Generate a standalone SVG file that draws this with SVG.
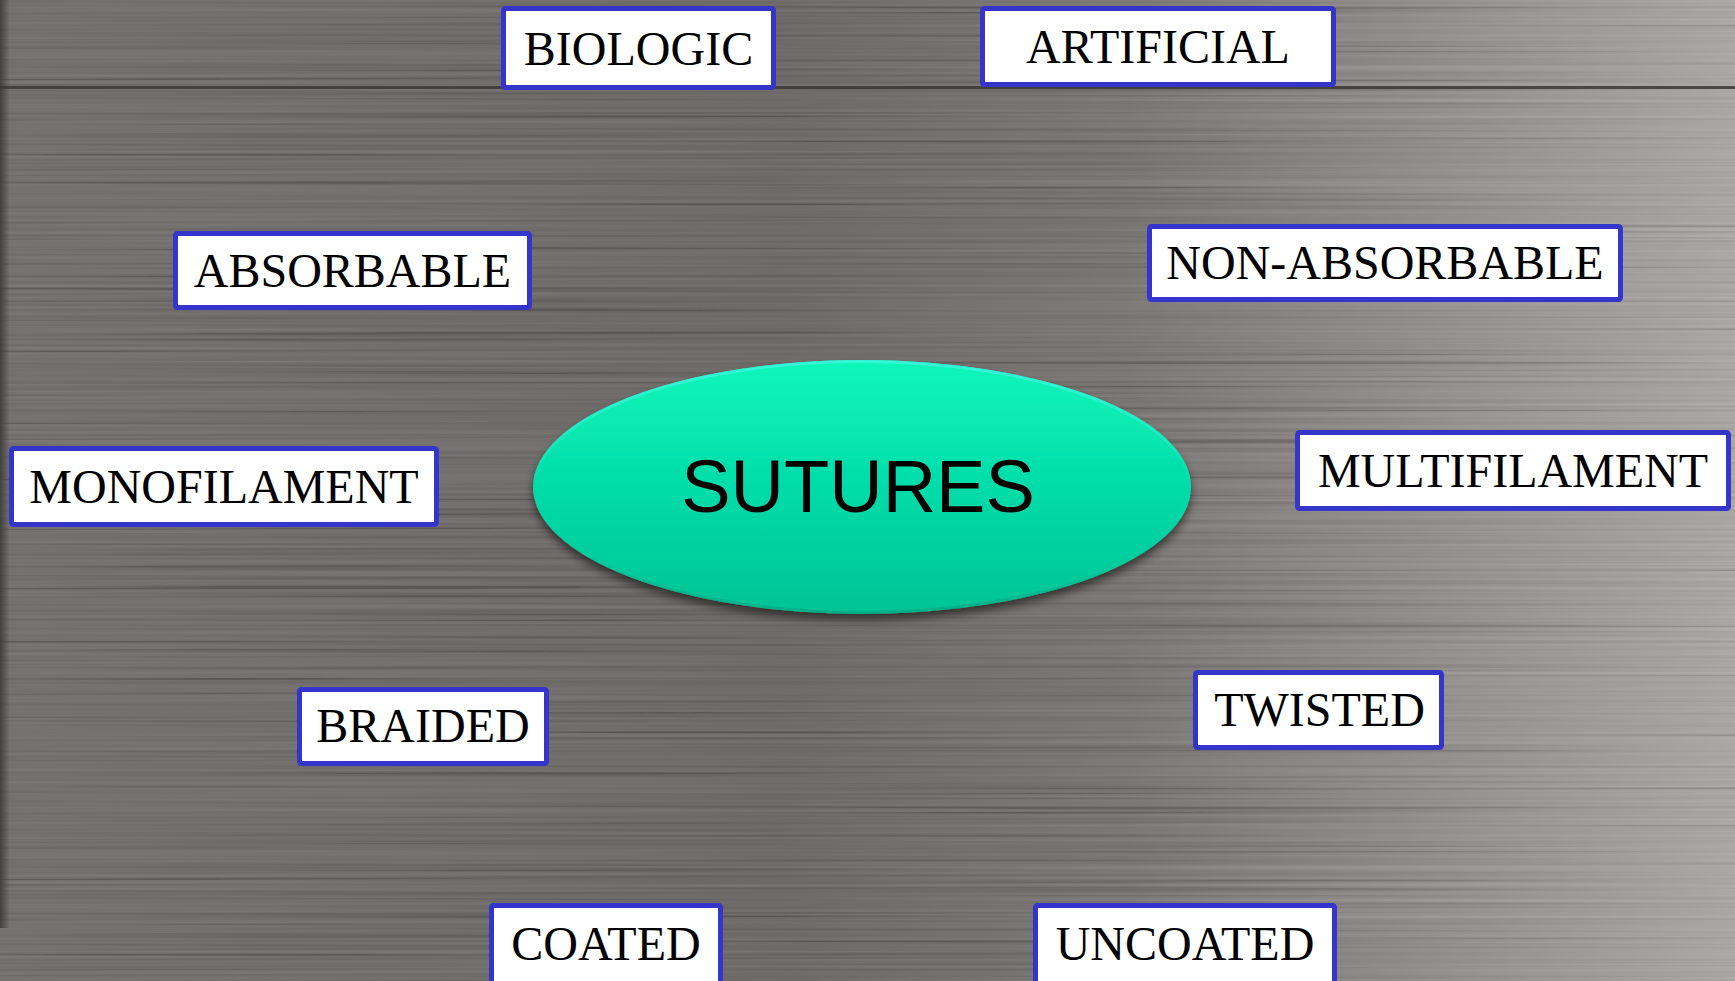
<svg xmlns="http://www.w3.org/2000/svg" width="1735" height="981" viewBox="0 0 1735 981">
  <defs>
    <linearGradient id="bg" x1="0" y1="0" x2="1" y2="0">
      <stop offset="0" stop-color="#6d6967"/>
      <stop offset="0.45" stop-color="#65615f"/>
      <stop offset="0.65" stop-color="#736f6c"/>
      <stop offset="0.85" stop-color="#938f8c"/>
      <stop offset="1" stop-color="#aaa6a3"/>
    </linearGradient>
    <linearGradient id="edge" x1="0" y1="0" x2="1" y2="0">
      <stop offset="0" stop-color="#3c3a39" stop-opacity="0.9"/>
      <stop offset="1" stop-color="#3c3a39" stop-opacity="0"/>
    </linearGradient>
    <linearGradient id="green" x1="0" y1="0" x2="0" y2="1">
      <stop offset="0" stop-color="#0af7bb"/>
      <stop offset="0.5" stop-color="#05dca9"/>
      <stop offset="1" stop-color="#02c395"/>
    </linearGradient>
    <linearGradient id="rim" x1="0" y1="0" x2="0" y2="1">
      <stop offset="0" stop-color="#40f5e0" stop-opacity="0.8"/>
      <stop offset="0.5" stop-color="#40f5e0" stop-opacity="0"/>
      <stop offset="1" stop-color="#008a68" stop-opacity="0.35"/>
    </linearGradient>
    <filter id="streak" x="0" y="0" width="100%" height="100%">
      <feTurbulence type="fractalNoise" baseFrequency="0.0012 0.32" numOctaves="2" seed="7"/>
      <feColorMatrix type="matrix" values="0.33 0.33 0.33 0 0  0.33 0.33 0.33 0 0  0.33 0.33 0.33 0 0  0 0 0 0 0.13"/>
      <feComponentTransfer>
        <feFuncR type="linear" slope="2.5" intercept="-0.85"/>
        <feFuncG type="linear" slope="2.5" intercept="-0.85"/>
        <feFuncB type="linear" slope="2.5" intercept="-0.85"/>
      </feComponentTransfer>
    </filter>
    <filter id="shadow" x="-10%" y="-10%" width="120%" height="130%">
      <feGaussianBlur in="SourceAlpha" stdDeviation="5"/>
      <feOffset dx="0" dy="6" result="b"/>
      <feComponentTransfer><feFuncA type="linear" slope="0.55"/></feComponentTransfer>
      <feMerge><feMergeNode/><feMergeNode in="SourceGraphic"/></feMerge>
    </filter>
    <style>
      .box { fill: #ffffff; stroke: #3535cc; stroke-width: 5; }
      .lbl { font-family: "Liberation Serif", "Times New Roman", serif; font-size: 48px; fill: #000; text-anchor: middle; }
      .main { font-family: "Liberation Sans", Arial, sans-serif; font-size: 74px; fill: #000; text-anchor: middle; }
    </style>
  </defs>

  <g id="background">
    <rect x="0" y="0" width="1735" height="981" fill="url(#bg)"/>
    <rect x="0" y="0" width="1735" height="981" filter="url(#streak)"/>
    <rect x="0" y="0" width="10" height="928" fill="url(#edge)"/>
    <rect x="0" y="86" width="1735" height="3" fill="#3a3837" opacity="0.85"/>
  </g>

  <g id="connectors"></g>

  <g id="sutures">
    <g filter="url(#shadow)">
      <ellipse cx="862" cy="487" rx="329" ry="127" fill="url(#green)"/>
    </g>
    <ellipse cx="862" cy="487" rx="327.5" ry="125.5" fill="none" stroke="url(#rim)" stroke-width="3"/>
    <text class="main" x="858" y="512">SUTURES</text>
  </g>

  <g id="biologic">
    <rect class="box" x="503.5" y="8.5" width="270" height="79" rx="2"/>
    <text class="lbl" x="638.5" y="65">BIOLOGIC</text>
  </g>
  <g id="artificial">
    <rect class="box" x="982.5" y="8.5" width="351" height="76" rx="2"/>
    <text class="lbl" x="1158" y="63">ARTIFICIAL</text>
  </g>
  <g id="absorbable">
    <rect class="box" x="175.5" y="233.5" width="354" height="74" rx="2"/>
    <text class="lbl" x="352.5" y="287">ABSORBABLE</text>
  </g>
  <g id="non-absorbable">
    <rect class="box" x="1149.5" y="226.5" width="471" height="73" rx="2"/>
    <text class="lbl" x="1385" y="279">NON-ABSORBABLE</text>
  </g>
  <g id="monofilament">
    <rect class="box" x="11.5" y="448.5" width="425" height="76" rx="2"/>
    <text class="lbl" x="224" y="503">MONOFILAMENT</text>
  </g>
  <g id="multifilament">
    <rect class="box" x="1297.5" y="432.5" width="431" height="76" rx="2"/>
    <text class="lbl" x="1513" y="487">MULTIFILAMENT</text>
  </g>
  <g id="braided">
    <rect class="box" x="299.5" y="689.5" width="247" height="74" rx="2"/>
    <text class="lbl" x="423" y="742">BRAIDED</text>
  </g>
  <g id="twisted">
    <rect class="box" x="1195.5" y="672.5" width="246" height="75" rx="2"/>
    <text class="lbl" x="1319.5" y="726">TWISTED</text>
  </g>
  <g id="coated">
    <rect class="box" x="491.5" y="905.5" width="229" height="85" rx="2"/>
    <text class="lbl" x="606" y="960">COATED</text>
  </g>
  <g id="uncoated">
    <rect class="box" x="1035.5" y="905.5" width="299" height="85" rx="2"/>
    <text class="lbl" x="1185" y="960">UNCOATED</text>
  </g>
</svg>
